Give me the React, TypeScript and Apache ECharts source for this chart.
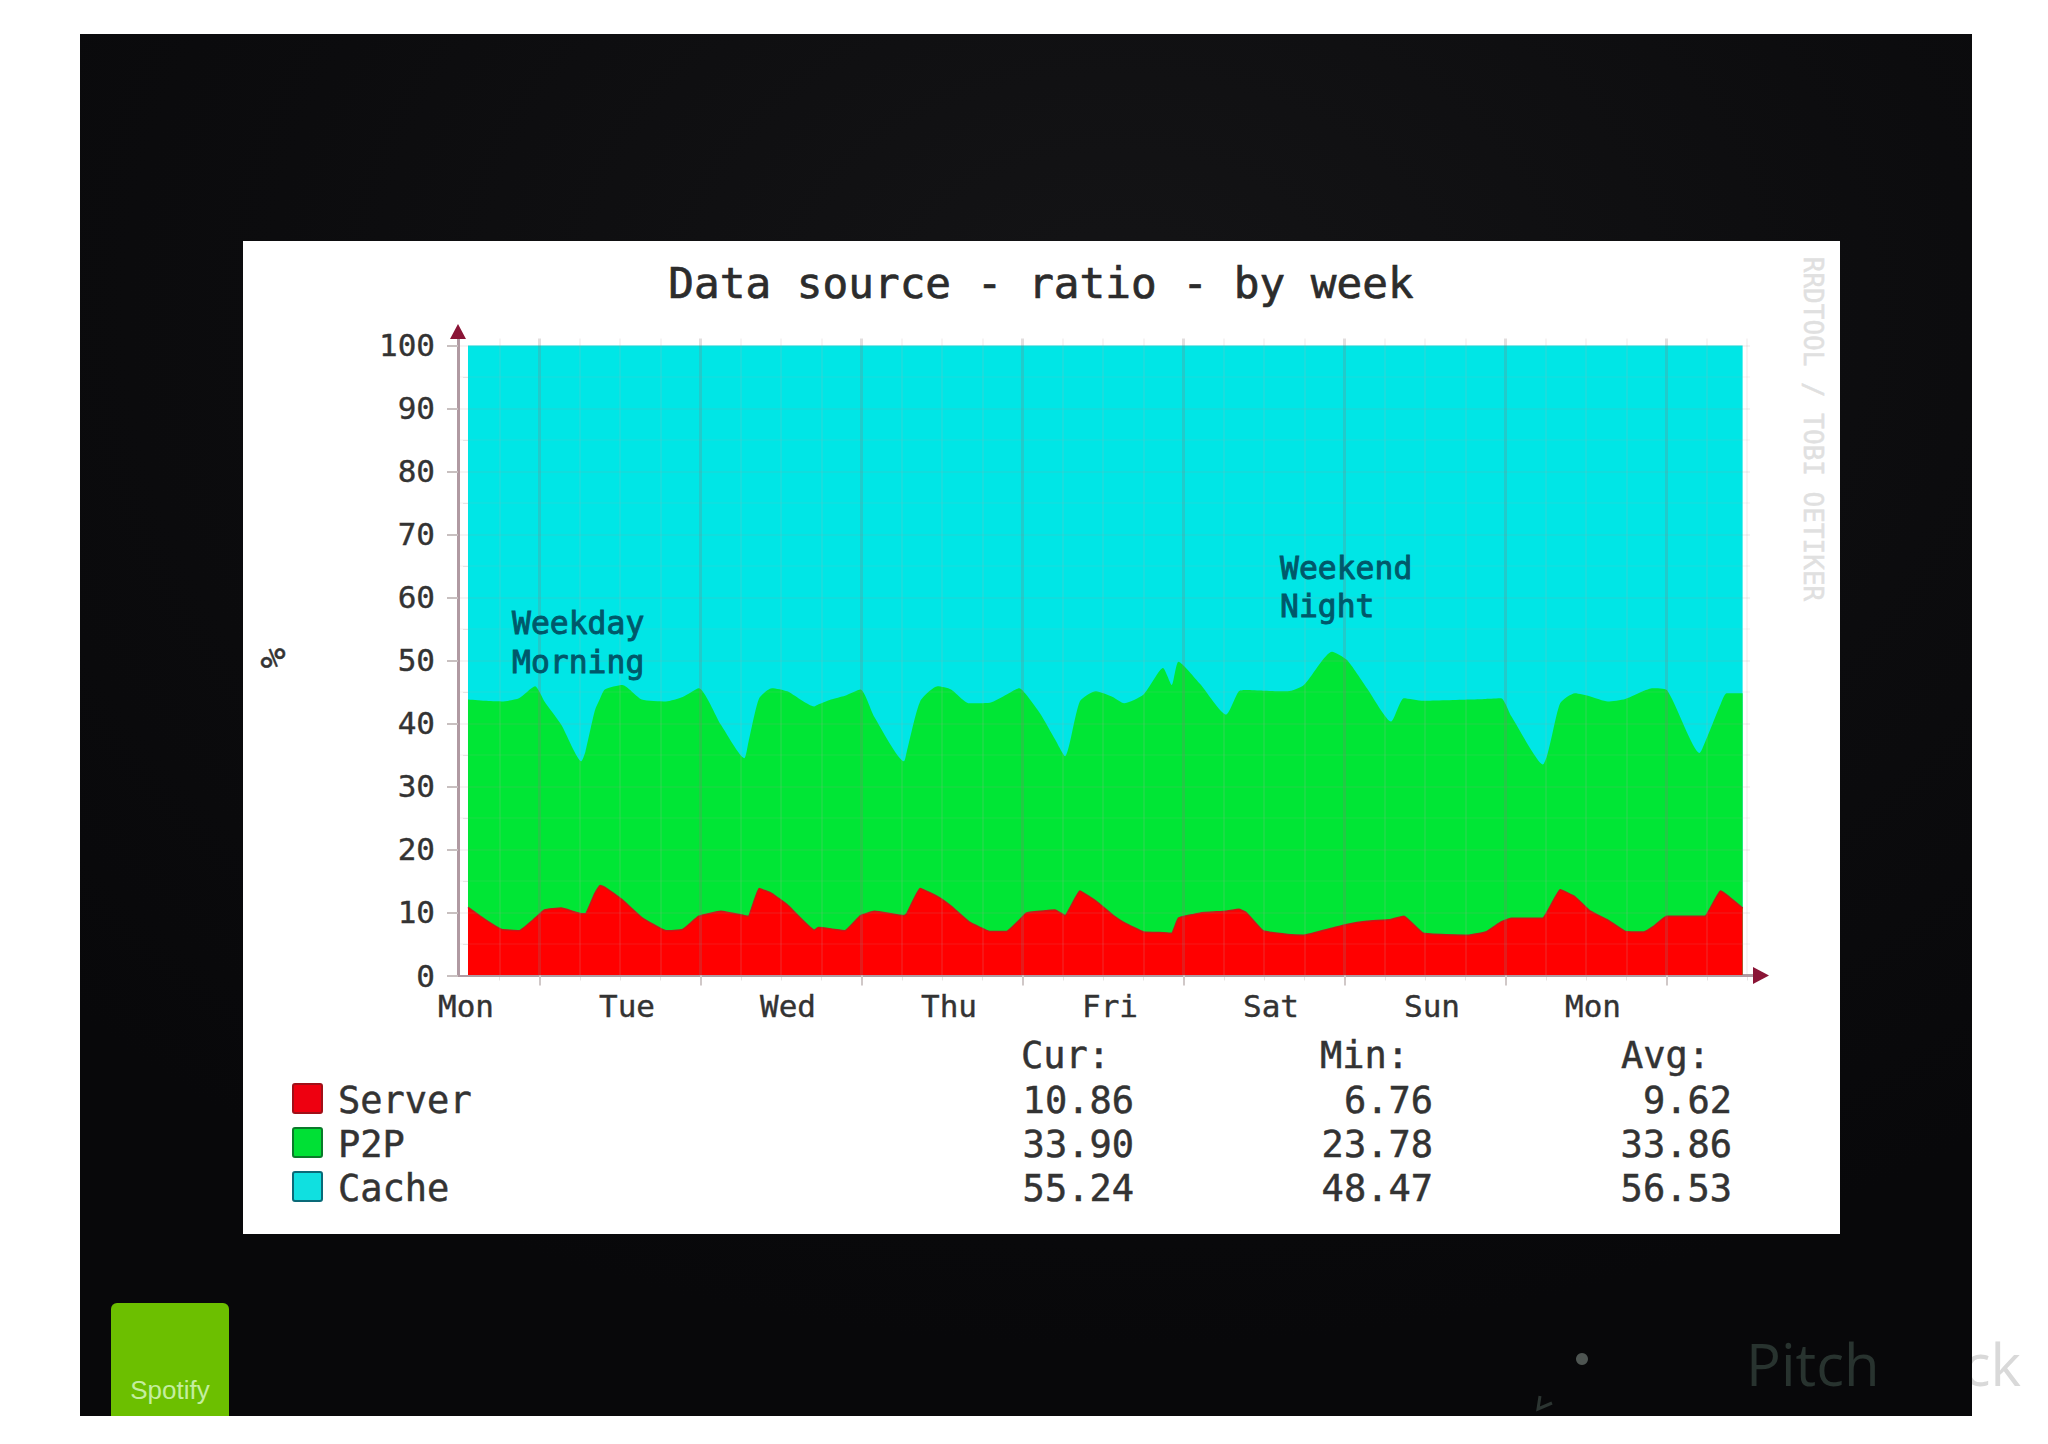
import { useEffect, useRef } from "react";
import * as echarts from "echarts";

// hours since the first sample at the kinks of the edges
const hours = [
  0, 2.5, 5, 7.6, 10, 11.4, 13.9, 16.9, 17.5, 18.9, 19.7, 20.4, 23, 25.9, 29.5, 32, 34.4, 37.7, 41.2, 41.8,
  43.4, 45.3, 47.6, 51.6, 52.2, 54.1, 56.2, 58.5, 60.6, 65, 65.4, 67.4, 70, 72, 74.7, 77.8, 80.3, 82.2, 83.2, 85.4,
  87.5, 89, 91.2, 93.6, 96.1, 97.8, 100.7, 103.6, 104.9, 105.9, 109.1, 113, 114.9, 116, 118.5, 122.2, 124.6, 128.8, 131, 134,
  137.6, 139.5, 142.4, 149.2, 151.7, 154, 155.5, 160.2, 162.8, 165, 167.3, 169.9, 172.5, 175.3, 176.6, 178.7, 183.6, 184.4, 186.7, 187.6,
  190,
];
const server = [
  10.8, 8.9, 7.3, 7.1, 9.1, 10.4, 10.7, 9.8, 9.8, 13, 14.3, 14, 12, 9.2, 7.1, 7.3, 9.4, 10.2, 9.5, 9.4,
  13.8, 13, 11.2, 7.2, 7.6, 7.4, 7.1, 9.5, 10.2, 9.5, 9.8, 13.8, 12.5, 11, 8.5, 7, 7, 8.8, 9.9, 10.2,
  10.4, 9.5, 13.4, 11.8, 9.6, 8.4, 6.9, 6.8, 6.7, 9.1, 9.9, 10.2, 10.5, 10, 7.1, 6.5, 6.4, 7.5, 8.1, 8.6,
  8.9, 9.4, 6.7, 6.4, 6.9, 8.5, 9.1, 9.1, 13.6, 12.5, 10.2, 8.8, 7, 6.9, 7.7, 9.4, 9.4, 9.4, 13.4, 12.8,
  10.7,
];
const p2p = [
  33, 34.7, 36.2, 36.9, 36.8, 33.1, 29.1, 24.2, 25.7, 29, 29.7, 31.4, 34.1, 34.6, 36.4, 36.9, 36.2, 29.6, 25, 27.6,
  30.2, 32.6, 33.9, 35.5, 35.4, 36.4, 37.3, 35.9, 30.8, 24.5, 25.7, 29.7, 33.4, 34.4, 34.7, 36.3, 37.6, 36.8, 34.7, 31.2,
  27.1, 25.3, 30.1, 33.3, 34.6, 34.8, 37.7, 42, 39.4, 40.7, 36.4, 31.2, 34.6, 35.3, 38.1, 38.6, 39.7, 43.9, 42, 37,
  31.4, 34.6, 36.9, 37.4, 37, 35.5, 32.1, 24.4, 29.6, 32.3, 34.1, 34.7, 36.9, 38.3, 37.9, 35.9, 25.9, 27.6, 29.6, 32,
  34.1,
];
const cache = [
  56.2, 56.4, 56.5, 56, 54.1, 56.5, 60.2, 66, 64.5, 58, 56, 54.6, 53.9, 56.2, 56.5, 55.8, 54.4, 60.2, 65.5, 63,
  56, 54.4, 54.9, 57.3, 57, 56.2, 55.6, 54.6, 59, 66, 64.5, 56.5, 54.1, 54.6, 56.8, 56.7, 55.4, 54.4, 55.4, 58.6,
  62.5, 65.2, 56.5, 54.9, 55.8, 56.8, 55.4, 51.2, 53.9, 50.2, 53.7, 58.6, 54.9, 54.7, 54.8, 54.9, 53.9, 48.6, 49.9, 54.4,
  59.7, 56, 56.4, 56.2, 56.1, 56, 58.8, 66.5, 56.8, 55.2, 55.7, 56.5, 56.1, 54.8, 54.4, 54.7, 64.7, 63, 57, 55.2,
  55.2,
];

const dayNames = ["Mon", "Tue", "Wed", "Thu", "Fri", "Sat", "Sun", "Mon"];
const dayLabelHours = [-0.3, 23.7, 47.7, 71.7, 95.7, 119.7, 143.7, 167.7];
const dayGridHours = [10.66, 34.66, 58.66, 82.66, 106.66, 130.66, 154.66, 178.66];
const sixHourGrid = [
  4.66, 16.66, 22.66, 28.66, 40.66, 46.66, 52.66, 64.66, 70.66, 76.66, 88.66, 94.66, 100.66, 112.66, 118.66,
  124.66, 136.66, 142.66, 148.66, 160.66, 166.66, 172.66, 184.66, 190.66,
];
const yTicks = [0, 10, 20, 30, 40, 50, 60, 70, 80, 90, 100];
const yMinorTicks = [5, 15, 25, 35, 45, 55, 65, 75, 85, 95];

const legendNames = ["Server", "P2P", "Cache"];
const legendColors = ["#ee0010", "#00e035", "#10e0e0"];
const legendBorders = ["#a01018", "#0a7a2a", "#0a6a78"];
const curValues = ["10.86", "33.90", "55.24"];
const minValues = ["6.76", "23.78", "48.47"];
const avgValues = ["9.62", "33.86", "56.53"];

const MONO = "'DejaVu Sans Mono', monospace";
const TEXT = "#333";

// a thin stroke of the text's own colour stands in for the blur that thickens the photo's glyphs
function label(text: string, x: number, y: number, size: number, extra: Record<string, unknown> = {}) {
  const fill = (extra.fill as string) ?? TEXT;
  return {
    type: "text",
    x,
    y,
    z: 20,
    style: {
      text,
      fontFamily: MONO,
      fontSize: size,
      fill,
      stroke: fill,
      lineWidth: 0.5,
      textVerticalAlign: "middle",
      ...extra,
    },
  };
}

function buildGraphics() {
  const rows = [1100, 1144, 1188];
  const note = { fill: "#00586a", lineWidth: 0.9 };
  const els: any[] = [
    // "Deck" sits under the black frame, so only its tail shows on the white page
    {
      type: "text",
      x: 1888,
      y: 1363,
      z: -5,
      style: { text: "Deck", fontFamily: "'Open Sans'", fontSize: 58, fill: "#d9d9d9", textVerticalAlign: "middle" },
    },
    {
      type: "rect",
      z: -4,
      shape: { x: 80, y: 34, width: 1892, height: 1382 },
      style: {
        fill: new echarts.graphic.RadialGradient(0.55, 0.2, 0.75, [
          { offset: 0, color: "#141416" },
          { offset: 0.6, color: "#0c0c0e" },
          { offset: 1, color: "#08080a" },
        ]),
      },
    },
    { type: "rect", z: -3, shape: { x: 243, y: 241, width: 1597, height: 993 }, style: { fill: "#fff" } },
    { type: "rect", z: 1, shape: { x: 111, y: 1303, width: 118, height: 113, r: [6, 6, 0, 0] }, style: { fill: "#6cbf00" } },
    {
      type: "text",
      x: 170,
      y: 1390,
      z: 2,
      style: {
        text: "Spotify",
        fontFamily: "'Liberation Sans'",
        fontSize: 26,
        fill: "#c4eea0",
        textAlign: "center",
        textVerticalAlign: "middle",
      },
    },
    {
      type: "text",
      x: 1746,
      y: 1363,
      z: 2,
      style: { text: "Pitch", fontFamily: "'Open Sans'", fontSize: 58, fill: "#28332f", textVerticalAlign: "middle" },
    },
    { type: "circle", z: 2, shape: { cx: 1582, cy: 1359, r: 6 }, style: { fill: "#4e5552" } },
    {
      type: "polyline",
      z: 2,
      shape: { points: [[1540, 1396], [1538, 1409], [1552, 1403]] },
      style: { stroke: "#2c3532", lineWidth: 3, fill: "none" },
    },
    // title, axis name and the rrdtool credit
    label("Data source - ratio - by week", 1041, 283, 42.7, { textAlign: "center", fill: "#2c2c2c", lineWidth: 0.7 }),
    { ...label("%", 273, 658, 34, { textAlign: "center" }), rotation: Math.PI / 2 },
    {
      ...label("RRDTOOL / TOBI OETIKER", 1813, 429, 26, { textAlign: "center", fill: "#e0e0e0" }),
      rotation: -Math.PI / 2,
    },
    // arrow heads at the end of the axes
    { type: "line", z: 6, shape: { x1: 1743, y1: 975.5, x2: 1756, y2: 975.5 }, style: { stroke: "#b09aa2", lineWidth: 3 } },
    { type: "polygon", z: 7, shape: { points: [[1753, 967], [1769, 975.5], [1753, 984]] }, style: { fill: "#8a1436" } },
    { type: "polygon", z: 7, shape: { points: [[450, 339], [458, 324], [466, 339]] }, style: { fill: "#8a1436" } },
    // annotations inside the plot
    label("Weekday", 512, 623, 31.4, note),
    label("Morning", 512, 662, 31.4, note),
    label("Weekend", 1280, 568, 31.4, note),
    label("Night", 1280, 606, 31.4, note),
    // stats table
    label("Cur:", 1021, 1055, 37),
    label("Min:", 1320, 1055, 37),
    label("Avg:", 1621, 1055, 37),
  ];
  legendNames.forEach((name, i) => {
    const y = rows[i];
    els.push({
      type: "rect",
      z: 20,
      shape: { x: 293, y: y - 16, width: 29, height: 29, r: 2 },
      style: { fill: legendColors[i], stroke: legendBorders[i], lineWidth: 2 },
    });
    els.push(label(name, 338, y, 37));
    els.push(label(curValues[i], 1134, y, 37, { textAlign: "right" }));
    els.push(label(minValues[i], 1433, y, 37, { textAlign: "right" }));
    els.push(label(avgValues[i], 1732, y, 37, { textAlign: "right" }));
  });
  return els;
}

// the layers are stacked by hand: ECharts' own stack looks points up by x value, which fails on fractional hours
function area(name: string, tops: number[], color: string, border: string, width: number, smooth = 0) {
  return {
    name,
    type: "line",
    z: 2,
    symbol: "none",
    showSymbol: false,
    smooth,
    data: hours.map((h, i) => [h, tops[i]]),
    lineStyle: { width, color: border },
    itemStyle: { color },
    areaStyle: { color, opacity: 1 },
  };
}

export default function App() {
  const ref = useRef<HTMLDivElement>(null);

  useEffect(() => {
    const el = ref.current;
    if (!el) return;
    const chart = echarts.init(el, undefined, { renderer: "svg" });
    const hidden = { show: false };
    const xBase = { type: "value", min: -1.49, max: 191.1, position: "bottom" };
    const yBase = { type: "value", min: 0, max: 101.1, position: "left" };
    const serverTop = server;
    const p2pTop = server.map((v, i) => v + p2p[i]);
    const cacheTop = p2pTop.map((v, i) => v + cache[i]);
    const tickText = { fontFamily: MONO, fontSize: 31, color: TEXT, textBorderColor: TEXT, textBorderWidth: 0.4 };
    chart.setOption({
      animation: false,
      backgroundColor: "#fff",
      grid: { left: 458, top: 338.5, width: 1292, height: 637 },
      xAxis: [
        {
          ...xBase,
          z: 5,
          axisLine: { show: true, onZero: false, lineStyle: { color: "#b09aa2", width: 2 } },
          axisTick: { show: true, length: 10, customValues: dayGridHours, lineStyle: { color: "#d0c8c8", width: 2 } },
          axisLabel: {
            show: true,
            customValues: dayLabelHours,
            margin: 15,
            ...tickText,
            formatter: (v: number) => dayNames[dayLabelHours.indexOf(v)] ?? "",
          },
          splitLine: { show: true, lineStyle: { color: "rgba(140,115,115,0.24)", width: 3 } },
        },
        {
          ...xBase,
          z: 4,
          axisLine: hidden,
          axisLabel: hidden,
          axisTick: { show: true, length: 5, customValues: sixHourGrid, lineStyle: { color: "#e8e4e4", width: 1 } },
          splitLine: { show: true, lineStyle: { color: "rgba(190,170,170,0.13)", width: 2 } },
        },
      ],
      yAxis: [
        {
          ...yBase,
          z: 5,
          axisLine: { show: true, onZero: false, lineStyle: { color: "#b09aa2", width: 3 } },
          axisTick: { show: true, length: 11, customValues: yTicks, lineStyle: { color: "#c8c0c0", width: 2 } },
          axisLabel: { show: true, customValues: yTicks, margin: 23, ...tickText },
          splitLine: { show: true, lineStyle: { color: "rgba(170,150,150,0.1)", width: 2 } },
        },
        {
          ...yBase,
          z: 4,
          axisLine: hidden,
          axisLabel: hidden,
          axisTick: { show: true, length: 5, customValues: yMinorTicks, lineStyle: { color: "#e8e4e4", width: 1 } },
          splitLine: { show: true, lineStyle: { color: "rgba(190,170,170,0.07)", width: 2 } },
        },
      ],
      series: [
        area("Cache", cacheTop, "#00e6e6", "#00e6e6", 0),
        area("P2P", p2pTop, "#00e635", "#00e635", 0, 0.2),
        area("Server", serverTop, "#ff0000", "#c81818", 1.5, 0.1),
      ],
      graphic: { elements: buildGraphics() },
    });
    return () => chart.dispose();
  }, []);

  return <div ref={ref} style={{ position: "absolute", left: 0, top: 0, width: 2048, height: 1444 }} />;
}
